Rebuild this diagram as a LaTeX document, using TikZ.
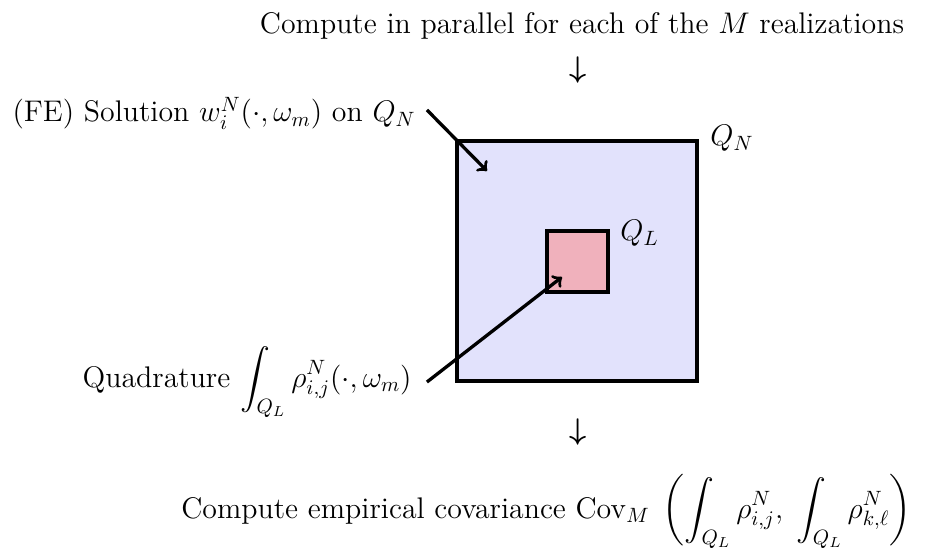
\documentclass[tikz,border=0pt]{standalone}
\usepackage{amsmath}
\usepackage{amssymb}
\usetikzlibrary{arrows,positioning}

\definecolor{outerfill}{RGB}{226,226,252}
\definecolor{innerfill}{RGB}{240,177,188}

\begin{document}
\begin{tikzpicture}[x=0.4828pt,y=-0.4828pt,
    every node/.style={font=\Large},
    box/.style={draw, line width=1.6pt, inner sep=0pt},
    lbl/.style={inner sep=0pt},
    pointer/.style={->, line width=1.6pt}]
    \useasboundingbox (0,0) rectangle (932,552);
    \node[lbl, anchor=base] (top) at (582,34) {Compute in parallel for each of the $M$ realizations};
    \node[lbl] (down1) at (578,70) {$\boldsymbol{\downarrow}$};
    \node[box, fill=outerfill, minimum size=115.9pt] (QN) at (577,261) {};
    \node[box, fill=innerfill, minimum size=29.5pt] (QL) at (577.5,261.5) {};
    \node[lbl, anchor=base west] (QNlabel) at (710,146) {$Q_N$};
    \node[lbl, anchor=base west] (QLlabel) at (620,241) {$Q_L$};
    \node[lbl, anchor=base east] (fe) at (416,122) {(FE) Solution $w_i^N(\cdot,\omega_m)$ on $Q_N$};
    \node[lbl, anchor=base east] (quad) at (412,387) {Quadrature $\displaystyle\int_{Q_L}\rho_{i,j}^N(\cdot,\omega_m)$};
    \node[lbl] (down2) at (578,432) {$\boldsymbol{\downarrow}$};
    \node[lbl, anchor=base east] (cov) at (912,518) {Compute empirical covariance $\operatorname{Cov}_M\;\left(\displaystyle\int_{Q_L}\rho_{i,j}^N,\;\int_{Q_L}\rho_{k,\ell}^N\right)$};
    \coordinate (feTip) at (487,171);
    \coordinate (quadTip) at (562,277);
    \path[pointer]
    ([xshift=5.3pt,yshift=5.8pt]fe.base east) edge (feTip)
    ([xshift=7.2pt,yshift=2.4pt]quad.base east) edge (quadTip);
  \end{tikzpicture}
\end{document}
